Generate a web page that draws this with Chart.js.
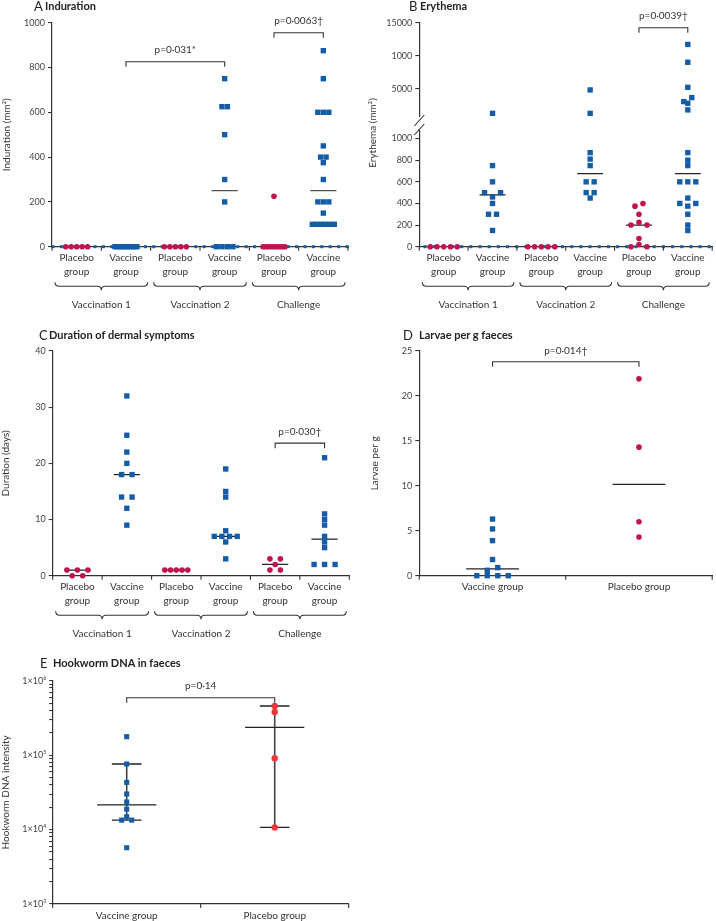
<!DOCTYPE html>
<html><head><meta charset="utf-8">
<script src="https://cdn.jsdelivr.net/npm/chart.js@4/dist/chart.umd.min.js"></script>
<style>
html,body{margin:0;padding:0;background:#fff;}
#page{position:relative;width:716px;height:921px;overflow:hidden;font-family:Lato,"Open Sans",sans-serif;color:#222;}
#page canvas{position:absolute;left:0;top:0;}
.let{position:absolute;font-size:13px;line-height:14px;white-space:nowrap;}
.ttl{position:absolute;font-size:11px;font-weight:700;line-height:12px;white-space:nowrap;}
</style></head>
<body>
<div id="page">
<canvas id="cA" width="716" height="921"></canvas>
<canvas id="cBu" width="716" height="921"></canvas>
<canvas id="cBl" width="716" height="921"></canvas>
<canvas id="cC" width="716" height="921"></canvas>
<canvas id="cD" width="716" height="921"></canvas>
<canvas id="cE" width="716" height="921"></canvas>
<div class="let" style="left:34px;top:-1px">A</div><div class="ttl" style="left:45px;top:0px">Induration</div>
<div class="let" style="left:409px;top:-1px">B</div><div class="ttl" style="left:420px;top:0px">Erythema</div>
<div class="let" style="left:39px;top:328px">C</div><div class="ttl" style="left:49px;top:329px">Duration of dermal symptoms</div>
<div class="let" style="left:403px;top:328px">D</div><div class="ttl" style="left:419px;top:329px">Larvae per g faeces</div>
<div class="let" style="left:40px;top:656px">E</div><div class="ttl" style="left:53px;top:657px">Hookworm DNA in faeces</div>
</div>
<script>
// ---------------- DATA ----------------
const catLabels6 = [['Placebo','group'],['Vaccine','group'],['Placebo','group'],['Vaccine','group'],['Placebo','group'],['Vaccine','group']];
const catLabels2D = ['Vaccine group','Placebo group'];
const groupLabels = ['Vaccination 1','Vaccination 2','Challenge'];

// A — Induration (mm²)
const indPlaceboV1 = [0,0,0,0,0];
const indVaccineV1 = [0,0,0,0,0,0,0,0,0,0];
const indPlaceboV2 = [0,0,0,0,0];
const indVaccineV2 = [750,625,625,500,300,200,0,0,0,0];
const indPlaceboCh = [225,0,0,0,0,0,0,0,0,0];
const indVaccineCh = [875,750,600,600,600,450,400,400,375,300,200,200,200,150,100,100,100,100,100,100];
const indMedians = [null,null,null,250,null,250];
const indTicks = [0,200,400,600,800,1000];

// B — Erythema (mm²), broken axis
const eryPlaceboV1 = [0,0,0,0,0];
const eryVaccineV1 = [1250,750,600,500,500,460,400,300,300,150];
const eryPlaceboV2 = [0,0,0,0,0];
const eryVaccineV2 = [4800,1250,870,810,750,600,600,500,500,450];
const eryPlaceboCh = [400,375,300,225,200,200,75,20,0,0];
const eryVaccineCh = [11700,9000,5200,3630,3030,2780,1770,870,800,750,600,600,600,450,400,400,375,300,200,150];
const eryMedians = [null,480,null,675,200,675];
const eryLowerTicks = [0,200,400,600,800,1000];
const eryUpperTicks = [5000,10000,15000];
const eryUpperTickLabels = ['5000','1000','15000'];

// C — Duration of dermal symptoms (days)
const durPlaceboV1 = [1,1,1,0,0];
const durVaccineV1 = [32,25,22,20,18,18,14,14,12,9];
const durPlaceboV2 = [1,1,1,1,1];
const durVaccineV2 = [19,15,14,8,7,7,7,7,6,3];
const durPlaceboCh = [3,3,2,1,1];
const durVaccineCh = [21,11,10,9,7,6,5,2,2,2];
const durMedians = [1,18,1,7,2,6.5];
const durTicks = [0,10,20,30,40];

// D — Larvae per g faeces
const larVaccine = [6.3,5.2,3.9,1.8,0.9,0.6,0,0,0,0];
const larPlacebo = [21.9,14.3,6.0,4.3];
const larMedians = [0.75,10.15];
const larTicks = [0,5,10,15,20,25];

// E — Hookworm DNA intensity (log)
const dnaVaccine = [177000,76000,43000,30000,23500,18800,14900,13400,13400,5700];
const dnaPlacebo = [457000,380000,90600,10700];
const dnaMedians = [21400,236000];
const dnaBarLow = [13400,10700];
const dnaBarHigh = [76000,457000];
const dnaMajorTicks = [1e3,1e4,1e5,1e6];
const dnaMajorLabels = ['1×10³','1×10⁴','1×10⁵','1×10⁶'];

// --------------- STYLE ---------------
const FONT = 'Lato, "Open Sans", sans-serif';
const BLUE = '#135ca8', RED = '#c1144b', RED_E = '#e8383c', AX = '#333';
const PLACEBO = {pointStyle:'circle', pointRadius:2.8, backgroundColor:RED};
const VACCINE = {pointStyle:'rect', pointRadius:3.8, backgroundColor:BLUE};
const LBL = 10;

// --------------- HELPERS ---------------
function pointSets(groups, styles, swarm) {
  return groups.map((vals, i) => Object.assign({
    type:'scatter', data: vals.map(v => ({x:i, y:v})), borderWidth:0,
    pointHoverRadius:3, clip:false, swarm, order:0
  }, styles[i]));
}
function segSet(segs, color, width) {
  const data = [];
  segs.forEach(s => { data.push({x:s[0], y:s[1]}, {x:s[2], y:s[3]}, {x:s[0], y:null}); });
  return {type:'scatter', showLine:true, spanGaps:false, data, borderColor:color, borderWidth:width,
          pointRadius:0, pointHoverRadius:0, clip:false, order:1};
}
function medianSegs(meds, hw) {
  const s = [];
  meds.forEach((m, i) => { if (m !== null) s.push([i-hw, m, i+hw, m]); });
  return s;
}
function yAxis(o) {
  return {
    type:o.type || 'linear', min:o.min, max:o.max, position:'left',
    afterFit: s => { s.width = o.width; },
    afterBuildTicks: s => { s.ticks = o.ticks.map(v => ({value:v})); },
    ticks:{autoSkip:false, padding:3, color:'#444', font:{family:FONT, size:9},
      callback: v => { if (o.labels) { const k = o.labelValues.indexOf(v); return k >= 0 ? o.labels[k] : ''; } return String(v); }},
    grid:{drawOnChartArea:false, drawTicks:true, tickLength:o.tickLength || 4, color:AX, lineWidth:1.1},
    border:{display:true, color:AX, width:1.2},
    title: o.title ? {display:true, text:o.title, color:'#333', font:{family:FONT, size:LBL}, padding:{top:o.titlePad, bottom:0}} : {display:false}
  };
}
function xAxis(labels, height, display) {
  return {
    type:'linear', min:-0.5, max:labels.length-0.5, position:'bottom', display: display !== false,
    afterFit: s => { s.height = height; },
    afterBuildTicks: s => { s.ticks = labels.map((_, i) => ({value:i})); },
    ticks:{autoSkip:false, maxRotation:0, minRotation:0, padding:4.3, color:'#333', font:{family:FONT, size:LBL, lineHeight:1.4},
      callback: v => labels[v]},
    grid:{display:false, drawTicks:false},
    border:{display:true, color:AX, width:1.2}
  };
}

// beeswarm: spread points of similar value horizontally (pixel-based)
const swarmPlugin = {
  id:'swarm',
  afterDatasetsUpdate(chart) {
    chart.data.datasets.forEach((ds, di) => {
      if (!ds.swarm) return;
      const meta = chart.getDatasetMeta(di);
      const {sp, spread, thr} = ds.swarm;
      const pts = meta.data.map((el, j) => ({el, y:el.y, v:ds.data[j].y})).sort((a, b) => a.y - b.y);
      const rows = []; let cur = null;
      pts.forEach(p => { if (cur && p.y - cur[0].y < thr) cur.push(p); else { cur = [p]; rows.push(cur); } });
      rows.forEach(row => {
        const n = row.length; if (n < 2) return;
        const s = Math.min(sp, spread / (n - 1));
        const slots = row.map((_, k) => (k - (n - 1) / 2) * s).sort((a, b) => Math.abs(a) - Math.abs(b) || a - b);
        const cnt = {}; row.forEach(p => { cnt[p.v] = (cnt[p.v] || 0) + 1; });
        row.slice().sort((a, b) => cnt[a.v] - cnt[b.v] || a.v - b.v).forEach((p, k) => { p.el.x += slots[k]; });
      });
    });
  }
};

function decor(cfg) {
  return {
    id:'decor',
    beforeDatasetsDraw(chart) {
      if (!cfg.axisDots) return;
      const {ctx, chartArea:ca} = chart; const y0 = chart.scales.y.getPixelForValue(0);
      ctx.save(); ctx.fillStyle = BLUE;
      for (let x = ca.left + cfg.axisDots[0]; x < ca.right - 1; x += cfg.axisDots[1]) ctx.fillRect(x - 1.5, y0 - 1.5, 3, 3);
      ctx.restore();
    },
    afterDraw(chart) {
      const {ctx, chartArea:ca} = chart; const xs = chart.scales.x, ys = chart.scales.y;
      ctx.save();
      ctx.strokeStyle = AX; ctx.fillStyle = '#333'; ctx.lineWidth = 1.1;
      const line = (x1, y1, x2, y2) => { ctx.beginPath(); ctx.moveTo(x1, y1); ctx.lineTo(x2, y2); ctx.stroke(); };
      if (cfg.boundaryTicks) {
        for (let b = xs.min; b <= xs.max + 1e-9; b += 1) { const px = xs.getPixelForValue(b); line(px, ca.bottom, px, ca.bottom + 4); }
      }
      if (cfg.braces) {
        ctx.font = LBL + 'px ' + FONT; ctx.textAlign = 'center'; ctx.textBaseline = 'middle';
        cfg.braces.forEach((br, i) => {
          const x1 = xs.getPixelForValue(br[0] - 0.5) + 3, x2 = xs.getPixelForValue(br[1] + 0.5) - 3, xm = (x1 + x2) / 2;
          const y0 = ca.bottom + 35.5, r = 4;
          ctx.beginPath();
          ctx.moveTo(x1, y0);
          ctx.quadraticCurveTo(x1, y0 + r, x1 + r, y0 + r);
          ctx.lineTo(xm - r, y0 + r);
          ctx.quadraticCurveTo(xm, y0 + r, xm, y0 + 2 * r);
          ctx.quadraticCurveTo(xm, y0 + r, xm + r, y0 + r);
          ctx.lineTo(x2 - r, y0 + r);
          ctx.quadraticCurveTo(x2, y0 + r, x2, y0);
          ctx.stroke();
          ctx.fillText(groupLabels[i], xm, ca.bottom + 58.3);
        });
      }
      if (cfg.brackets) {
        ctx.font = LBL + 'px ' + FONT; ctx.textAlign = 'center'; ctx.textBaseline = 'middle';
        cfg.brackets.forEach(bk => {
          const xa = xs.getPixelForValue(bk.a), xb = xs.getPixelForValue(bk.b), yp = ys.getPixelForValue(bk.v);
          ctx.beginPath(); ctx.moveTo(xa, yp + 5); ctx.lineTo(xa, yp); ctx.lineTo(xb, yp); ctx.lineTo(xb, yp + 5); ctx.stroke();
          ctx.fillText(bk.label, (xa + xb) / 2, yp - 11.5);
        });
      }
      if (cfg.breakMarks) {
        const ax = ca.left;
        cfg.breakMarks.forEach(yc => line(ax - 5, yc + 5.5, ax + 5, yc - 5.5));
        line(ax, ys.getPixelForValue(ys.max), ax, cfg.breakMarks[1]);
      }
      if (cfg.yTitle) {
        ctx.font = LBL + 'px ' + FONT; ctx.textAlign = 'center'; ctx.textBaseline = 'middle';
        ctx.translate(cfg.yTitle.x, cfg.yTitle.y); ctx.rotate(-Math.PI / 2);
        ctx.fillText(cfg.yTitle.text, 0, 0);
      }
      ctx.restore();
    }
  };
}
function make(id, datasets, scales, padding, cfg) {
  return new Chart(document.getElementById(id), {
    type:'scatter',
    data:{datasets},
    options:{responsive:false, animation:false, events:[],
      layout:{padding}, scales,
      plugins:{legend:{display:false}, tooltip:{enabled:false}}},
    plugins:[swarmPlugin, decor(cfg)]
  });
}
const H = 921, W = 716;
const six = [PLACEBO, VACCINE, PLACEBO, VACCINE, PLACEBO, VACCINE];

// ---------- Panel A ----------
make('cA',
  [...pointSets([indPlaceboV1, indVaccineV1, indPlaceboV2, indVaccineV2, indPlaceboCh, indVaccineCh], six, {sp:5.5, spread:22, thr:5.3}),
   segSet(medianSegs(indMedians, 0.265), '#555', 1.3)],
  {x:xAxis(catLabels6, 40), y:yAxis({min:0, max:1000, ticks:indTicks, width:52, title:'Induration (mm²)', titlePad:1})},
  {left:0, top:22.7, right:W - 348, bottom:H - 246.7 - 40},
  {axisDots:[1, 8.4], boundaryTicks:true, braces:[[0,1],[2,3],[4,5]],
   brackets:[{a:1, b:3, v:826, label:'p=0·031*'}, {a:4, b:5, v:955, label:'p=0·0063†'}]});

// ---------- Panel B (broken axis: upper + lower) ----------
const eryGroups = [eryPlaceboV1, eryVaccineV1, eryPlaceboV2, eryVaccineV2, eryPlaceboCh, eryVaccineCh];
make('cBu',
  pointSets(eryGroups.map(g => g.filter(v => v > 1000)), six, {sp:8, spread:27, thr:5.3}),
  {x:xAxis(catLabels6, 0, false), y:yAxis({min:800, max:15000, ticks:eryUpperTicks, labels:eryUpperTickLabels, labelValues:eryUpperTicks, width:59.3})},
  {left:360, top:22.7, right:2, bottom:H - 116.3},
  {brackets:[{a:4, b:5, v:14240, label:'p=0·0039†'}]});
make('cBl',
  [...pointSets(eryGroups.map(g => g.filter(v => v <= 1000)), six, {sp:8, spread:27, thr:5.3}),
   segSet(medianSegs(eryMedians, 0.265), '#222', 1.3)],
  {x:xAxis(catLabels6, 40), y:yAxis({min:0, max:1070, ticks:eryLowerTicks, width:59.3})},
  {left:360, top:131, right:2, bottom:H - 246.7 - 40},
  {axisDots:[5.7, 9.17], boundaryTicks:true, braces:[[0,1],[2,3],[4,5]], breakMarks:[120.5, 129.5],
   yTitle:{text:'Erythema (mm²)', x:372.7, y:133}});

// ---------- Panel C ----------
make('cC',
  [...pointSets([durPlaceboV1, durVaccineV1, durPlaceboV2, durVaccineV2, durPlaceboCh, durVaccineCh], six, {sp:10.5, spread:23, thr:5.3}),
   segSet(medianSegs(durMedians, 0.265), '#222', 1.3)],
  {x:xAxis(catLabels6, 40), y:yAxis({min:0, max:40, ticks:durTicks, width:52.7, title:'Duration (days)', titlePad:0})},
  {left:0, top:351, right:W - 349.3, bottom:H - 575.7 - 40},
  {boundaryTicks:true, braces:[[0,1],[2,3],[4,5]], brackets:[{a:4, b:5, v:23.6, label:'p=0·030†'}]});

// ---------- Panel D ----------
make('cD',
  [...pointSets([larVaccine, larPlacebo], [VACCINE, PLACEBO], {sp:10.5, spread:32, thr:5.3}),
   segSet(medianSegs(larMedians, 0.18), '#222', 1.3)],
  {x:xAxis(catLabels2D, 20), y:yAxis({min:0, max:25, ticks:larTicks, width:59.3, title:'Larvae per g', titlePad:9})},
  {left:360, top:351, right:0, bottom:H - 575.7 - 20},
  {boundaryTicks:true, brackets:[{a:0, b:1, v:23.8, label:'p=0·014†'}]});

// ---------- Panel E ----------
const dnaTickMarks = [];
for (let e = 3; e <= 5; e++) for (let m = 1; m <= 9; m++) dnaTickMarks.push(m * Math.pow(10, e));
dnaTickMarks.push(1e6);
const bars = [], caps = [];
dnaMedians.forEach((m, i) => {
  bars.push([i, dnaBarLow[i], i, dnaBarHigh[i]]);
  caps.push([i - 0.2, m, i + 0.2, m], [i - 0.1, dnaBarLow[i], i + 0.1, dnaBarLow[i]], [i - 0.1, dnaBarHigh[i], i + 0.1, dnaBarHigh[i]]);
});
make('cE',
  [...pointSets([dnaVaccine, dnaPlacebo], [{pointStyle:'rect', pointRadius:3.6, backgroundColor:BLUE}, {pointStyle:'circle', pointRadius:3.2, backgroundColor:RED_E}], {sp:10, spread:10, thr:5.3}),
   segSet(caps, '#222', 1.3), segSet(bars, '#444', 1.6)],
  {x:xAxis(catLabels2D, 17), y:yAxis({type:'logarithmic', min:1e3, max:1e6, ticks:dnaTickMarks, labels:dnaMajorLabels, labelValues:dnaMajorTicks, width:52.7, title:'Hookworm DNA intensity', titlePad:0, tickLength:3.5})},
  {left:0, top:680.7, right:W - 348.7, bottom:0},
  {boundaryTicks:true, brackets:[{a:0, b:1, v:590000, label:'p=0·14'}]});
</script>
</body></html>
